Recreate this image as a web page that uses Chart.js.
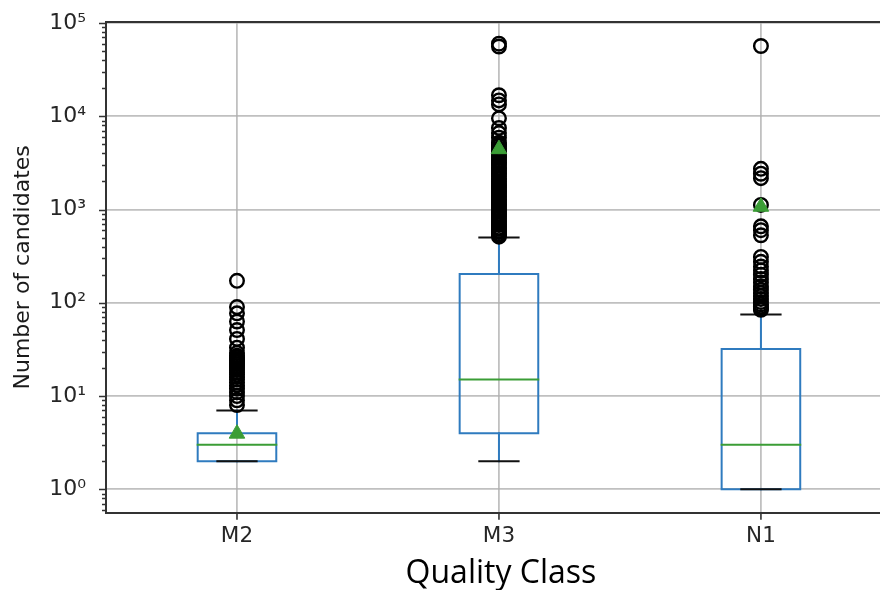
<!DOCTYPE html>
<html>
<head>
<meta charset="utf-8">
<script src="https://cdn.jsdelivr.net/npm/chart.js@4.4.1/dist/chart.umd.min.js"></script>
<style>
    html, body { margin: 0; padding: 0; background: #fff; overflow: hidden; }
    #wrap { width: 880px; height: 590px; }
</style>
</head>
<body>
<div id="wrap"><canvas id="boxChart" width="880" height="590"></canvas></div>
<script>
// Box statistics per quality class
const classes = ['M2', 'M3', 'N1'];
const q1 = [2, 4, 1];
const medians = [3, 15, 3];
const q3 = [4, 203, 32];
const whiskerLow = [2, 2, 1];
const whiskerHigh = [7, 500, 75];
const means = [3.95, 4440, 1070];

// Outliers beyond the whiskers
const fliersM2 = [8, 9, 10, 11, 12, 13, 14, 15, 16, 17, 18, 19, 20, 21, 22, 23, 24, 25, 26, 27,
    29, 33, 41, 51, 63, 77, 90, 172];
const fliersM3 = [512, 530, 548, 575, 590, 622, 640, 681, 700, 738, 760, 812, 845, 880, 905,
    957, 1000, 1040, 1100, 1124, 1200, 1250, 1290, 1360, 1402, 1480, 1550, 1600, 1700, 1746,
    1820, 1910, 2000, 2100, 2150, 2280, 2400, 2460, 2600, 2730, 2800, 3000, 3150, 3220, 3400,
    3600, 3700, 3900, 4100, 4350, 4500, 4800, 5000, 5200, 5900, 6600, 7500, 9500, 13400,
    14800, 16800, 56000, 60000];
const fliersN1 = [84, 87, 91, 96, 102, 110, 118, 127, 138, 150, 165, 180, 200, 222, 245, 275,
    310, 530, 600, 660, 1120, 2170, 2420, 2730, 56700];
const fliers = [fliersM2, fliersM3, fliersN1];

// Log axis: labelled decades
const yMajor = [1, 10, 100, 1000, 10000, 100000];
const yTickLabels = ['10⁰', '10¹', '10²', '10³', '10⁴', '10⁵'];

const xTitle = 'Quality Class';

const BOX_HALF = 0.15;
const CAP_HALF = 0.075;

const blue = '#2f7bbf';
const green = '#3b9d36';
const font = "'DejaVu Sans'";

function isMajor(v) {
    return yMajor.some(m => Math.abs(m - v) / m < 1e-6);
}

// polylines -> one dataset, broken by null points
function segments(lines) {
    const pts = [];
    lines.forEach(line => {
        line.forEach(([x, y]) => pts.push({ x, y }));
        pts.push({ x: line[0][0], y: null });
    });
    return pts;
}

const boxLines = classes.map((c, i) => {
    const p = i + 1;
    return [[p - BOX_HALF, q1[i]], [p + BOX_HALF, q1[i]], [p + BOX_HALF, q3[i]],
        [p - BOX_HALF, q3[i]], [p - BOX_HALF, q1[i]]];
});
const whiskerLines = [];
const capLines = [];
classes.forEach((c, i) => {
    const p = i + 1;
    whiskerLines.push([[p, q1[i]], [p, whiskerLow[i]]]);
    whiskerLines.push([[p, q3[i]], [p, whiskerHigh[i]]]);
    capLines.push([[p - CAP_HALF, whiskerLow[i]], [p + CAP_HALF, whiskerLow[i]]]);
    capLines.push([[p - CAP_HALF, whiskerHigh[i]], [p + CAP_HALF, whiskerHigh[i]]]);
});
const medianLines = classes.map((c, i) =>
    [[i + 1 - BOX_HALF, medians[i]], [i + 1 + BOX_HALF, medians[i]]]);

const flierPoints = [];
fliers.forEach((list, i) => list.forEach(v => flierPoints.push({ x: i + 1, y: v })));

const lineSet = (data, color, order) => ({
    type: 'line',
    data: segments(data),
    borderColor: color,
    borderWidth: 2,
    pointRadius: 0,
    spanGaps: false,
    tension: 0,
    borderCapStyle: 'square',
    borderJoinStyle: 'miter',
    order
});

// tick marks, top spine and the x title (the axes run past the right edge,
// so the title is centred on the full axes width, not the visible part)
const axisDecor = {
    id: 'axisDecor',
    afterDraw(chart) {
        const { ctx, chartArea: area, scales: { x, y } } = chart;
        ctx.save();
        ctx.strokeStyle = '#333';
        ctx.lineWidth = 1.6;
        ctx.beginPath();
        y.ticks.forEach(t => {
            const py = Math.round(y.getPixelForValue(t.value)) + 0.5;
            const len = isMajor(t.value) ? 7 : 4;
            ctx.moveTo(area.left - len, py);
            ctx.lineTo(area.left, py);
        });
        x.ticks.forEach(t => {
            const px = x.getPixelForValue(t.value);
            ctx.moveTo(px, area.bottom);
            ctx.lineTo(px, area.bottom + 7);
        });
        ctx.stroke();
        ctx.lineWidth = 2;
        ctx.beginPath();
        ctx.moveTo(area.left - 1, area.top);
        ctx.lineTo(area.right + 1, area.top);
        ctx.stroke();

        ctx.fillStyle = '#000';
        ctx.font = "32px 'Open Sans'";
        ctx.textAlign = 'center';
        ctx.textBaseline = 'alphabetic';
        ctx.fillText(xTitle, (x.getPixelForValue(0.5) + x.getPixelForValue(3.5)) / 2 + 2, area.bottom + 70);
        ctx.restore();
    }
};

new Chart(document.getElementById('boxChart'), {
    type: 'scatter',
    data: {
        datasets: [
            lineSet(boxLines, blue, 5),
            lineSet(whiskerLines, blue, 4),
            lineSet(capLines, '#111', 3),
            lineSet(medianLines, green, 2),
            {
                type: 'scatter',
                data: flierPoints,
                pointStyle: 'circle',
                pointRadius: 6.8,
                pointBorderWidth: 2.4,
                pointBorderColor: '#000',
                pointBackgroundColor: 'rgba(0,0,0,0)',
                order: 1
            },
            {
                type: 'scatter',
                data: means.map((m, i) => ({ x: i + 1, y: m })),
                pointStyle: 'triangle',
                pointRadius: 9,
                pointBorderWidth: 1,
                pointBorderColor: green,
                pointBackgroundColor: green,
                order: 0
            }
        ]
    },
    options: {
        responsive: false,
        devicePixelRatio: 1,
        animation: false,
        layout: { autoPadding: false, padding: { top: 22, left: 0, right: 0, bottom: 0 } },
        plugins: { legend: { display: false }, tooltip: { enabled: false } },
        scales: {
            x: {
                type: 'linear',
                min: 0.5,
                max: 3.4545,
                afterBuildTicks: scale => { scale.ticks = classes.map((c, i) => ({ value: i + 1 })); },
                afterFit: scale => {
                    scale.height = 77.3;
                    scale.paddingLeft = 0;
                    scale.paddingRight = 0;
                },
                ticks: {
                    autoSkip: false,
                    padding: 11,
                    color: '#262626',
                    font: { family: font, size: 21.5 },
                    callback: v => classes[v - 1]
                },
                grid: { color: 'rgba(176,176,176,0.8)', lineWidth: 1.8, drawTicks: false },
                border: { display: true, color: '#333', width: 2 }
            },
            y: {
                type: 'logarithmic',
                min: 0.561,
                max: 102500,
                afterBuildTicks: scale => {
                    const t = [];
                    [6, 7, 8, 9].forEach(k => t.push({ value: k / 10 }));
                    yMajor.forEach(m => {
                        t.push({ value: m });
                        if (m < 100000) for (let k = 2; k <= 9; k++) t.push({ value: k * m });
                    });
                    scale.ticks = t;
                },
                afterFit: scale => {
                    scale.width = 106;
                    scale.paddingTop = 0;
                    scale.paddingBottom = 0;
                },
                ticks: {
                    autoSkip: false,
                    padding: 20,
                    color: '#262626',
                    font: { family: font, size: 22 },
                    callback: v => {
                        const idx = yMajor.findIndex(m => Math.abs(m - v) / m < 1e-6);
                        return idx >= 0 ? yTickLabels[idx] : '';
                    }
                },
                grid: {
                    drawTicks: false,
                    lineWidth: 1.8,
                    color: c => (c.tick && isMajor(c.tick.value)) ? 'rgba(176,176,176,0.8)' : 'rgba(0,0,0,0)'
                },
                border: { display: true, color: '#333', width: 2 },
                title: {
                    display: true,
                    text: 'Number of candidates',
                    color: '#1a1a1a',
                    font: { family: font, size: 22 },
                    padding: { top: 10, bottom: 0 }
                }
            }
        }
    },
    plugins: [axisDecor]
});
</script>
</body>
</html>
